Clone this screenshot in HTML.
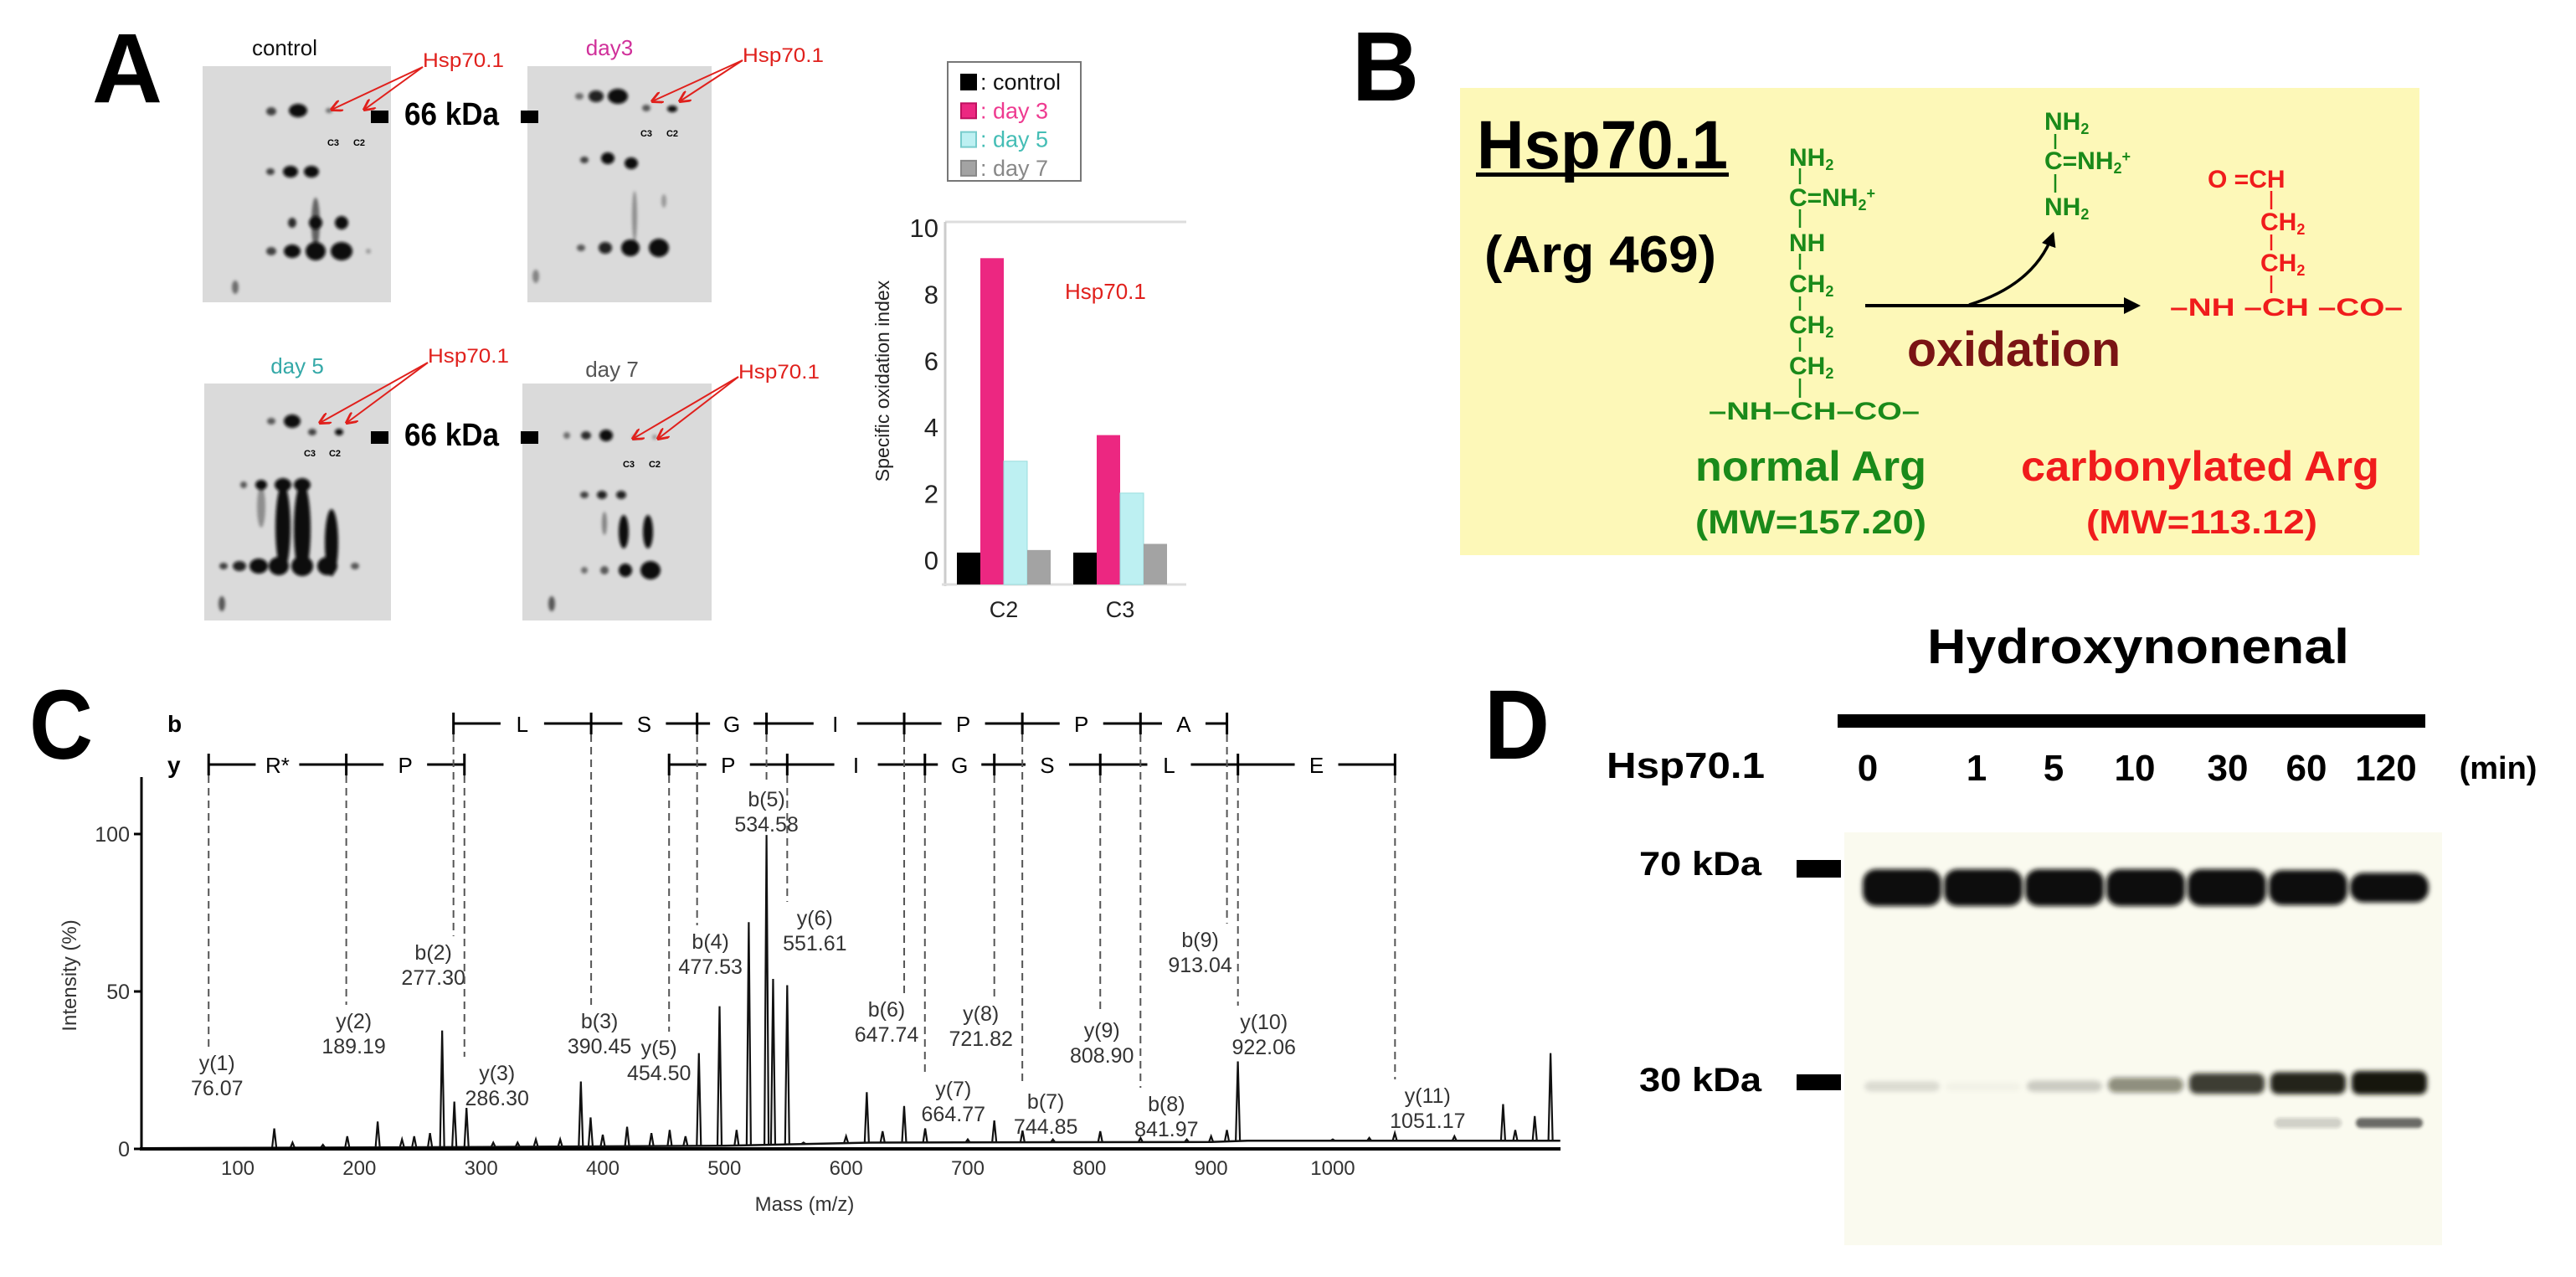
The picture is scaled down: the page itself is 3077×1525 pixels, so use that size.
<!DOCTYPE html>
<html><head><meta charset="utf-8"><style>
html,body{margin:0;padding:0;background:#fff;}
svg{display:block;font-family:"Liberation Sans",Arial,sans-serif;}
</style></head><body>
<svg id="fig" width="3077" height="1525" viewBox="0 0 3077 1525" xmlns="http://www.w3.org/2000/svg">
<defs>
<filter id="blur3" x="-50%" y="-50%" width="200%" height="200%"><feGaussianBlur stdDeviation="3"/></filter>
<filter id="blur2" x="-50%" y="-50%" width="200%" height="200%"><feGaussianBlur stdDeviation="1.8"/></filter>
<marker id="arrRed" viewBox="0 0 10 10" refX="9" refY="5" markerWidth="7" markerHeight="7" orient="auto"><path d="M0,0 L10,5 L0,10" fill="none" stroke="#e0201c" stroke-width="2"/></marker>
<marker id="arrBlk" viewBox="0 0 10 10" refX="8" refY="5" markerWidth="5" markerHeight="5" orient="auto"><path d="M0,0 L10,5 L0,10 z" fill="#000"/></marker>
</defs>
<rect x="0" y="0" width="3077" height="1525" fill="#fff"/>

<text x="110" y="122" font-size="118" font-weight="bold" textLength="84" lengthAdjust="spacingAndGlyphs">A</text>
<text x="1615" y="120" font-size="118" font-weight="bold" textLength="80" lengthAdjust="spacingAndGlyphs">B</text>
<text x="35" y="906" font-size="118" font-weight="bold" textLength="76" lengthAdjust="spacingAndGlyphs">C</text>
<text x="1773" y="906" font-size="118" font-weight="bold" textLength="78" lengthAdjust="spacingAndGlyphs">D</text>

<g id="gels">
 <rect x="242" y="79" width="225" height="282" fill="#dadada"/>
 <rect x="630" y="79" width="220" height="282" fill="#dadada"/>
 <rect x="244" y="458" width="223" height="283" fill="#dadada"/>
 <rect x="624" y="458" width="226" height="283" fill="#dadada"/>
 <text x="340" y="66" font-size="26" text-anchor="middle" fill="#111">control</text>
 <text x="728" y="66" font-size="26" text-anchor="middle" fill="#d0309a">day3</text>
 <text x="355" y="446" font-size="26" text-anchor="middle" fill="#35a9a8">day 5</text>
 <text x="731" y="450" font-size="26" text-anchor="middle" fill="#555">day 7</text>
 <g id="spots" filter="url(#blur2)"></g>
 <g id="gelText"></g>
</g>

<g id="barchart">
 <rect x="1132" y="74" width="159" height="142" fill="#fff" stroke="#777" stroke-width="2"/>
</g>

<g id="panelB">
 <rect x="1744" y="105" width="1146" height="558" fill="#fdf8b8"/>
 <text x="1764" y="201" font-size="82" font-weight="bold" textLength="300" lengthAdjust="spacingAndGlyphs">Hsp70.1</text>
 <rect x="1763" y="206" width="302" height="5" fill="#000"/>
 <text x="1773" y="325" font-size="62" font-weight="bold" textLength="277" lengthAdjust="spacingAndGlyphs">(Arg 469)</text>
 <g fill="#1a8a1a" font-weight="bold" font-size="30">
  <text x="2137" y="198">NH<tspan font-size="18" dy="5">2</tspan></text>
  <text x="2137" y="246">C=NH<tspan font-size="18" dy="5">2</tspan><tspan font-size="18" dy="-14">+</tspan></text>
  <text x="2137" y="300">NH</text>
  <text x="2137" y="349">CH<tspan font-size="18" dy="5">2</tspan></text>
  <text x="2137" y="398">CH<tspan font-size="18" dy="5">2</tspan></text>
  <text x="2137" y="447">CH<tspan font-size="18" dy="5">2</tspan></text>
  <text x="2041" y="501" textLength="252" lengthAdjust="spacingAndGlyphs">–NH–CH–CO–</text>
  <text x="2442" y="155">NH<tspan font-size="18" dy="5">2</tspan></text>
  <text x="2442" y="202">C=NH<tspan font-size="18" dy="5">2</tspan><tspan font-size="18" dy="-14">+</tspan></text>
  <text x="2442" y="257">NH<tspan font-size="18" dy="5">2</tspan></text>
 </g>
 <g stroke="#1a8a1a" stroke-width="2.5">
  <line x1="2150" y1="201" x2="2150" y2="220"/><line x1="2150" y1="250" x2="2150" y2="272"/>
  <line x1="2150" y1="303" x2="2150" y2="322"/><line x1="2150" y1="354" x2="2150" y2="371"/>
  <line x1="2150" y1="403" x2="2150" y2="420"/><line x1="2150" y1="452" x2="2150" y2="475"/>
  <line x1="2455" y1="160" x2="2455" y2="178"/><line x1="2455" y1="208" x2="2455" y2="230"/>
 </g>
 <line x1="2228" y1="365" x2="2553" y2="365" stroke="#000" stroke-width="4" marker-end="url(#arrBlk)"/>
 <path d="M2352,364 Q2430,340 2452,280" fill="none" stroke="#000" stroke-width="3.5" marker-end="url(#arrBlk)"/>
 <text x="2278" y="437" font-size="58" font-weight="bold" fill="#7a1414" textLength="255" lengthAdjust="spacingAndGlyphs">oxidation</text>
 <g fill="#f01c1c" font-weight="bold" font-size="30">
  <text x="2637" y="224">O =CH</text>
  <text x="2700" y="275">CH<tspan font-size="18" dy="5">2</tspan></text>
  <text x="2700" y="324">CH<tspan font-size="18" dy="5">2</tspan></text>
  <text x="2592" y="377" textLength="278" lengthAdjust="spacingAndGlyphs">–NH –CH –CO–</text>
 </g>
 <g stroke="#f01c1c" stroke-width="2.5">
  <line x1="2713" y1="228" x2="2713" y2="250"/><line x1="2713" y1="280" x2="2713" y2="299"/><line x1="2713" y1="329" x2="2713" y2="350"/>
 </g>
 <text x="2025" y="574" font-size="50" font-weight="bold" fill="#1a8a1a" textLength="276" lengthAdjust="spacingAndGlyphs">normal Arg</text>
 <text x="2025" y="637" font-size="40" font-weight="bold" fill="#1a8a1a" textLength="276" lengthAdjust="spacingAndGlyphs">(MW=157.20)</text>
 <text x="2414" y="574" font-size="50" font-weight="bold" fill="#f01c1c" textLength="428" lengthAdjust="spacingAndGlyphs">carbonylated Arg</text>
 <text x="2492" y="637" font-size="40" font-weight="bold" fill="#f01c1c" textLength="276" lengthAdjust="spacingAndGlyphs">(MW=113.12)</text>
</g>

<g id="spectrum"></g>

<g id="blot">
 <text x="2554" y="792" font-size="58" font-weight="bold" text-anchor="middle" textLength="504" lengthAdjust="spacingAndGlyphs">Hydroxynonenal</text>
 <rect x="2195" y="853" width="702" height="16" fill="#000"/>
 <text x="1919" y="929" font-size="44" font-weight="bold" textLength="189" lengthAdjust="spacingAndGlyphs">Hsp70.1</text>
 <rect x="2203" y="994" width="714" height="493" fill="#fafaef"/>
 <text x="1958" y="1045" font-size="40" font-weight="bold" textLength="146" lengthAdjust="spacingAndGlyphs">70 kDa</text>
 <rect x="2146" y="1027" width="53" height="21" fill="#000"/>
 <text x="1958" y="1303" font-size="40" font-weight="bold" textLength="146" lengthAdjust="spacingAndGlyphs">30 kDa</text>
 <rect x="2146" y="1283" width="53" height="19" fill="#000"/>
</g>
</svg>

<script>
var NS='http://www.w3.org/2000/svg';
function mk(tag, attrs, parent, txt){
  var e=document.createElementNS(NS,tag);
  for(var k in attrs) e.setAttribute(k, attrs[k]);
  if(txt!==undefined) e.textContent=txt;
  parent.appendChild(e); return e;
}

/* ---------- Panel A bar chart data ---------- */
var barCategories=['C2','C3'];
var seriesNames=['control','day 3','day 5','day 7'];
var controlVals=[0.88,0.88];
var day3Vals=[9.0,4.12];
var day5Vals=[3.4,2.52];
var day7Vals=[0.95,1.12];
var barTicks=[0,2,4,6,8,10];

/* ---------- Panel C data ---------- */
var peakMz=[130,145,170,190,215,235,245,258,268,278,288,310,330,345,365,382,390,400,420,440,455,468,479,496,510,520,534.6,540,551.6,565,600,617,630,647.7,665,700,721.8,745,770,808.9,842,880,900,913,922,1000,1030,1051,1100,1140,1150,1166,1179];
var peakInt=[6.5,2,1.3,4,8.7,3,4,5,37.6,15,13,2,2,3,3,21.4,10,4.5,7,5,6,4,30.4,45.3,6,72,99.7,54,52,2,4,18,5.6,13.6,6.5,3,9,5.8,3,5.6,3.5,3,4,6,27.8,3,3.5,5,4,14.2,6,10.4,30.4];
var baseMz=[20,300,500,560,620,900,930,1187];
var baseInt=[0.2,0.6,1.0,1.5,2.0,2.2,2.6,2.6];
var xTicks=[100,200,300,400,500,600,700,800,900,1000];
var yTicks=[0,50,100];
var bIonMz=[277.30,390.45,477.53,534.58,647.74,744.85,841.97,913.04];
var bResidues=['L','S','G','I','P','P','A'];
var yIonMzA=[76.07,189.19,286.30];
var yResiduesA=['R*','P'];
var yIonMzB=[454.50,551.61,664.77,721.82,808.90,922.06,1051.17];
var yResiduesB=['P','I','G','S','L','E'];
var ionNames=['y(1)','y(2)','b(2)','y(3)','b(3)','y(5)','b(4)','b(5)','y(6)','b(6)','y(7)','y(8)','b(7)','y(9)','b(8)','b(9)','y(10)','y(11)'];
var ionMz=[76.07,189.19,277.30,286.30,390.45,454.50,477.53,534.58,551.61,647.74,664.77,721.82,744.85,808.90,841.97,913.04,922.06,1051.17];
var ionValueText=['76.07','189.19','277.30','286.30','390.45','454.50','477.53','534.58','551.61','647.74','664.77','721.82','744.85','808.90','841.97','913.04','922.06','1051.17'];

/* ---------- Panel D data ---------- */
var laneLabels=['0','1','5','10','30','60','120'];
var band70=[1,1,1,1,1,0.95,0.8];
var band30=[0.12,0.03,0.18,0.45,0.8,0.9,1.0];
var band25=[0,0,0,0,0,0.15,0.5];

(function(){
  var g=document.getElementById('barchart');
  var base=698, unit=43.3, axisX=1129, right=1417;
  function yS(v){return base-v*unit;}
  function labelY(v){return 669-v*39.7;}
  var groupX=[1143,1282], bw=28;
  var colors=['#000','#ec2781','#bdf0f2','#a3a3a3'];
  var strokes=['#000','#c01060','#7cc','#888'];
  var textColors=['#111','#ee3a90','#44bdb5','#888'];
  var all=[controlVals,day3Vals,day5Vals,day7Vals];
  var l=mk('line',{x1:axisX,y1:265,x2:right,y2:265,stroke:'#ddd','stroke-width':3},g);
  
  
  l=mk('line',{x1:axisX,y1:265,x2:axisX,y2:base+2,stroke:'#ccc','stroke-width':3},g);
  
  
  l=mk('line',{x1:axisX-4,y1:base,x2:right,y2:base,stroke:'#ddd','stroke-width':3},g);
  
  
  barTicks.forEach(function(v){
    var t=mk('text',{x:1121,y:labelY(v)+11,'font-size':31,'text-anchor':'end',fill:'#222'},g,String(v));
    
    
  });
  var tt=mk('text',{x:0,y:0,'font-size':23,'text-anchor':'middle',fill:'#222',transform:'translate(1062,455) rotate(-90)'},g,'Specific oxidation index');
  
  
  barCategories.forEach(function(c,ci){
    all.forEach(function(arr,si){
      var v=arr[ci];
      var r=mk('rect',{x:groupX[ci]+si*bw,y:yS(v),width:bw,height:base-yS(v),fill:colors[si],stroke:si==2?'#9dd':'none','stroke-width':1},g);
      
      
    });
    var ct=mk('text',{x:groupX[ci]+2*bw,y:737,'font-size':27,'text-anchor':'middle',fill:'#222'},g,c);
    
    
  });
  var h=mk('text',{x:1272,y:357,'font-size':26,fill:'#e0201c'},g,'Hsp70.1');
  
  
  seriesNames.forEach(function(n,i){
    var y=98+i*34.3;
    var s=mk('rect',{x:1148,y:y-9,width:18,height:18,fill:colors[i],stroke:strokes[i],'stroke-width':2},g);
    
    
    var t=mk('text',{x:1171,y:y+9,'font-size':27,fill:textColors[i]},g,': '+n);
    
    
  });
})();

(function(){
  var g=document.getElementById('spots');
  var spots=[
   [324,133,6,5,.7],[356,132,11,8,1],[393,132,4,3,.5],[323,205,5,4,.7],[347,205,9,7,1],[372,205,9,7,1],
   [377,266,5,30,.55],[349,266,5,6,.8],[377,266,8,8,1],[408,266,8,8,1],[324,300,6,5,.7],[349,300,10,8,1],[377,300,12,11,1],[408,300,13,11,1],[281,343,4,8,.5],[440,300,3,3,.3],
   [692,115,5,4,.5],[712,115,9,7,.9],[738,115,12,9,1],[772,129,5,4,.6],[803,130,6,4,1],[698,191,5,4,.7],[726,189,8,7,1],[754,195,8,7,1],
   [758,258,3,30,.35],[694,296,5,4,.6],[723,296,8,7,.9],[753,296,11,10,1],[787,296,12,11,1],[793,240,3,8,.3],[640,330,4,8,.4],
   [324,503,5,4,.6],[349,503,10,8,1],[373,516,5,4,.7],[405,516,5,4,1],[291,579,4,4,.6],[312,579,7,6,1],[338,579,10,8,1],[361,579,10,8,1],
   [338,630,9,52,1],[361,632,10,56,1],[396,648,8,40,1],[312,605,5,25,.35],
   [267,676,5,4,.7],[286,676,8,6,.9],[309,676,11,9,1],[333,676,12,11,1],[361,676,13,12,1],[391,676,12,11,1],[424,676,5,4,.6],[265,721,4,9,.6],
   [677,520,4,4,.5],[700,520,6,5,.8],[724,520,8,7,1],[758,522,3,3,.3],[782,522,3,3,.3],[698,591,5,4,.7],[719,591,6,5,.9],[742,591,6,5,.9],
   [745,635,6,20,1],[774,635,6,20,1],[722,625,3,14,.4],[698,681,4,4,.5],[722,681,5,5,.6],[747,681,8,8,1],[777,681,12,11,1],[659,721,4,9,.6]
  ];
  spots.forEach(function(s){
    var e=mk('ellipse',{cx:s[0],cy:s[1],rx:s[2],ry:s[3],fill:'#080808','fill-opacity':s[4]},g);
    
    
  });
  var t=document.getElementById('gelText');
  var lbl=[[398,174],[429,174],[772,163],[803,163],[370,545],[400,545],[751,558],[782,558]];
  lbl.forEach(function(p,i){
    var e=mk('text',{x:p[0],y:p[1],'font-size':11,'font-weight':'bold','text-anchor':'middle'},t,i%2==0?'C3':'C2');
    
    
  });
  var kda=[[443,132,622],[443,515,622]];
  kda.forEach(function(k){
    var a=mk('rect',{x:k[0],y:k[1],width:21,height:15,fill:'#000'},t);
    
    
    var b=mk('rect',{x:k[2],y:k[1],width:21,height:15,fill:'#000'},t);
    
    
    var c=mk('text',{x:483,y:k[1]+17,'font-size':38,'font-weight':'bold',textLength:113,lengthAdjust:'spacingAndGlyphs'},t,'66 kDa');
    
    
  });
  var arrows=[[505,80,[[396,131],[435,131]],505,80],[887,72,[[779,121],[812,121]],887,74],[511,433,[[382,505],[414,505]],511,433],[882,450,[[756,524],[786,524]],882,452]];
  arrows.forEach(function(a){
    var h=mk('text',{x:a[3],y:a[4],'font-size':24,fill:'#e0201c',textLength:97,lengthAdjust:'spacingAndGlyphs'},t,'Hsp70.1');
    
    
    a[2].forEach(function(p){
      var l=mk('line',{x1:a[0],y1:a[1],x2:p[0],y2:p[1],stroke:'#e0201c','stroke-width':2,'marker-end':'url(#arrRed)'},t);
      
      
    });
  });
})();

(function(){
  var g=document.getElementById('spectrum');
  function xS(m){return 284+(m-100)*1.4533;}
  function yS(v){return 1372-v*3.76;}
  var bRow=864, yRow=913;
  var bp=baseMz.map(function(m,i){return xS(m)+','+yS(baseInt[i]);}).join(' ');
  var bl=mk('polyline',{points:bp,fill:'none',stroke:'#111','stroke-width':2.5},g);
  
  
  function baseAt(m){
    for(var i=0;i<baseMz.length-1;i++){ if(m<=baseMz[i+1]){ var f=(m-baseMz[i])/(baseMz[i+1]-baseMz[i]); return baseInt[i]+f*(baseInt[i+1]-baseInt[i]); } }
    return baseInt[baseInt.length-1];
  }
  peakMz.forEach(function(m,i){
    var b=baseAt(m);
    var p=mk('path',{d:'M'+(xS(m)-2.5)+','+yS(b)+' L'+xS(m)+','+yS(peakInt[i])+' L'+(xS(m)+2.5)+','+yS(b),fill:'none',stroke:'#111','stroke-width':2.2},g);
    
    
  });
  var ax=mk('line',{x1:169,y1:928,x2:169,y2:1374,stroke:'#000','stroke-width':3},g);
  
  
  ax=mk('line',{x1:167,y1:1372,x2:1864,y2:1372,stroke:'#000','stroke-width':4},g);
  
  
  yTicks.forEach(function(v){
    var l=mk('line',{x1:160,y1:yS(v),x2:169,y2:yS(v),stroke:'#000','stroke-width':3},g);
    
    
    var t=mk('text',{x:155,y:yS(v)+9,'font-size':25,'text-anchor':'end',fill:'#333'},g,String(v));
    
    
  });
  xTicks.forEach(function(v){
    var t=mk('text',{x:xS(v),y:1403,'font-size':24,'text-anchor':'middle',fill:'#333'},g,String(v));
    
    
  });
  var xt=mk('text',{x:961,y:1446,'font-size':24,'text-anchor':'middle',fill:'#333'},g,'Mass (m/z)');
  
  
  var yt=mk('text',{x:0,y:0,'font-size':24,'text-anchor':'middle',fill:'#333',transform:'translate(91,1165) rotate(-90)'},g,'Intensity (%)');
  
  
  var rb=mk('text',{x:200,y:bRow+10,'font-size':28,'font-weight':'bold'},g,'b');
  
  
  var ry=mk('text',{x:200,y:yRow+10,'font-size':28,'font-weight':'bold'},g,'y');
  
  
  function ladder(mzs,res,row,name){
    mzs.forEach(function(m,i){
      var tk=mk('line',{x1:xS(m),y1:row-13,x2:xS(m),y2:row+13,stroke:'#000','stroke-width':3},g);
      
      
      if(i<res.length){
        var a=xS(m), b=xS(mzs[i+1]), c=(a+b)/2, gap=Math.min(26,(b-a)/2-4);
        var s1=mk('line',{x1:a,y1:row,x2:c-gap,y2:row,stroke:'#000','stroke-width':3},g);
        
        
        var s2=mk('line',{x1:c+gap,y1:row,x2:b,y2:row,stroke:'#000','stroke-width':3},g);
        
        
        var t=mk('text',{x:c,y:row+10,'font-size':26,'text-anchor':'middle'},g,res[i]);
        
        
      }
    });
  }
  ladder(bIonMz,bResidues,bRow,'b-ladder');
  ladder(yIonMzA,yResiduesA,yRow,'y-ladder');
  ladder(yIonMzB,yResiduesB,yRow,'y-ladder');
  var labelTop=[1270,1220,1138,1282,1220,1252,1125,955,1097,1206,1301,1211,1316,1231,1319,1123,1221,1309];
  var labelDx=[10,9,-24,39,10,-12,16,0,33,-21,34,-16,28,2,31,-32,31,39];
  ionNames.forEach(function(n,i){
    var x=xS(ionMz[i]);
    var top=n.charAt(0)=='b'?bRow:yRow;
    var d=mk('line',{x1:x,y1:top+13,x2:x,y2:labelTop[i]-20,stroke:'#555','stroke-width':2,'stroke-dasharray':'9,6'},g);
    
    
    var t1=mk('text',{x:x+labelDx[i],y:labelTop[i]+8,'font-size':25,'text-anchor':'middle',fill:'#333'},g,n);
    
    
    var t2=mk('text',{x:x+labelDx[i],y:labelTop[i]+38,'font-size':25,'text-anchor':'middle',fill:'#333'},g,ionValueText[i]);
    
    
  });
})();

(function(){
  var g=document.getElementById('blot');
  var labelX=[2231,2361,2453,2550,2661,2755,2850];
  function laneX(i){return 2272+i*97;}
  laneLabels.forEach(function(l,i){
    var t=mk('text',{x:labelX[i],y:932,'font-size':44,'font-weight':'bold','text-anchor':'middle'},g,l);
    
    
  });
  var mn=mk('text',{x:2984,y:930,'font-size':38,'font-weight':'bold','text-anchor':'middle'},g,'(min)');
  
  
  band70.forEach(function(v,i){
    var r=mk('rect',{x:laneX(i)-47,y:1060-22*v,width:94,height:44*v,rx:16,fill:'#101008','filter':'url(#blur3)'},g);
    
    
  });
  band30.forEach(function(v,i){
    var r=mk('rect',{x:laneX(i)-45,y:1293-14*v,width:90,height:10+18*v,rx:9,fill:'#141408','fill-opacity':Math.min(1,v*1.05),'filter':'url(#blur3)'},g);
    
    
  });
  band25.forEach(function(v,i){
    if(v<=0) return;
    var r=mk('rect',{x:laneX(i)-40,y:1335,width:80,height:12,rx:6,fill:'#202018','fill-opacity':v*1.3,'filter':'url(#blur2)'},g);
    
    
  });
})();
</script>
</body></html>
